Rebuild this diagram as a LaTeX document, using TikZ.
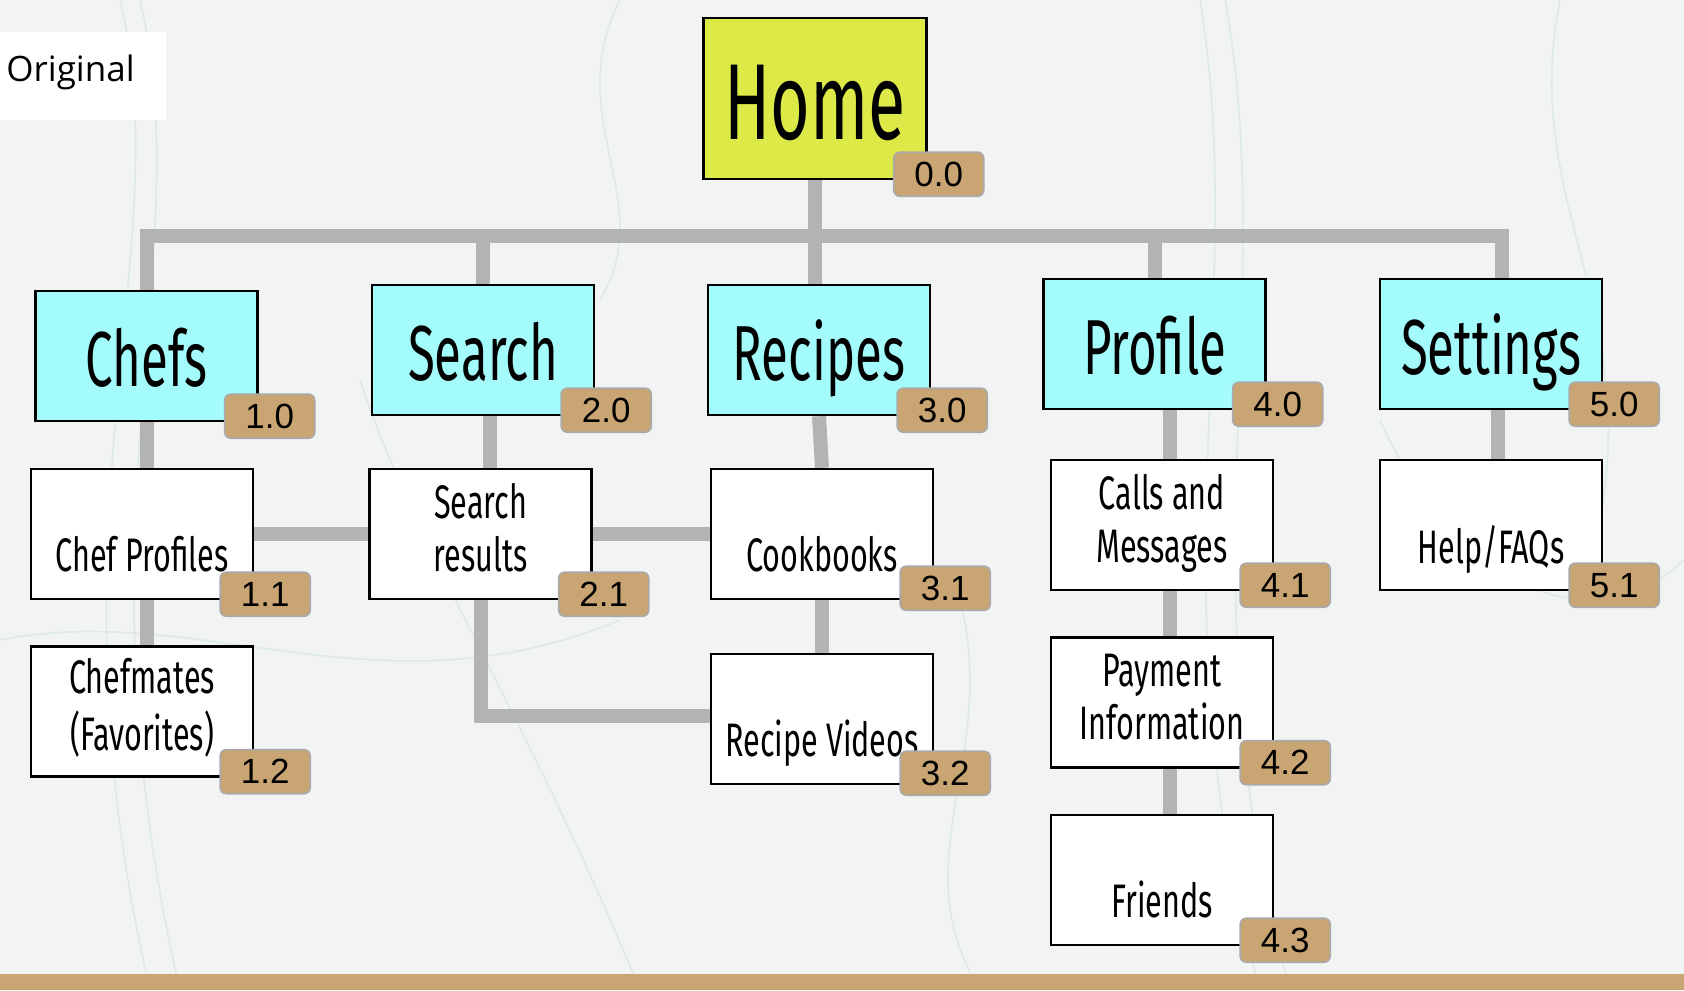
\documentclass[tikz,border=0pt]{standalone}
\usepackage{fontspec}
\IfFontExistsTF{Fira Sans Book}
  {\newfontfamily\condfont[FakeStretch=0.64]{Fira Sans Book}
   \newfontfamily\condfontb[FakeStretch=0.66]{Fira Sans Book}}
  {\newfontfamily\condfont[FakeStretch=0.63]{Fira Sans}
   \newfontfamily\condfontb[FakeStretch=0.65]{Fira Sans}}
\newfontfamily\badgefont{Liberation Sans}
\newfontfamily\origfont{Open Sans}
\usetikzlibrary{backgrounds}
\definecolor{cyanbox}{HTML}{A3FBFB}
\definecolor{homeyel}{HTML}{DCE947}
\definecolor{tanfill}{HTML}{C9A574}
\definecolor{badgeline}{HTML}{A9A9A9}
\definecolor{linegray}{HTML}{B3B3B3}
\definecolor{bgcol}{HTML}{F1F4F3}
\definecolor{smokecol}{HTML}{B9D8CB}
\newcommand\twoline[2]{\strut#1\\\strut#2}
\tikzset{
  boxbase/.style={draw=black, line width=1.2pt, minimum width=111pt, minimum height=65pt, inner sep=0pt},
  lvlone/.style={boxbase, fill=cyanbox, font=\condfont\fontsize{39}{45}\selectfont, text height=30pt, text depth=0pt},
  lvltwo/.style={boxbase, fill=white, align=center, font=\condfontb\fontsize{23.5}{26.5}\selectfont},
  homebox/.style={boxbase, fill=homeyel, minimum width=111.5pt, minimum height=80.5pt, font=\condfont\fontsize{54}{60}\selectfont, text height=41pt, text depth=0pt},
  badge/.style={draw=badgeline, line width=0.8pt, fill=tanfill, rounded corners=3pt, minimum width=45pt, minimum height=22pt, inner sep=0pt, font=\badgefont\fontsize{17.5}{20}\selectfont},
  conn/.style={draw=linegray, line width=7pt},
  smoke/.style={draw=smokecol, line width=0.8pt, opacity=0.35},
}
\begin{document}
\begin{tikzpicture}[x=0.5pt,y=-0.5pt]
\useasboundingbox (0,0) rectangle (1684,990);
\begin{pgfonlayer}{background}
\fill[bgcol] (0,0) rectangle (1684,990);
\draw[smoke] (120,0) .. controls (180,250) and (40,520) .. (150,990);
\draw[smoke] (140,0) .. controls (200,260) and (70,520) .. (180,990);
\draw[smoke] (360,380) .. controls (420,560) and (520,700) .. (640,990);
\draw[smoke] (1200,0) .. controls (1250,300) and (1150,600) .. (1260,990);
\draw[smoke] (1225,0) .. controls (1280,300) and (1180,600) .. (1290,990);
\draw[smoke] (1380,420) .. controls (1460,600) and (1600,640) .. (1684,560);
\draw[smoke] (0,640) .. controls (200,600) and (380,720) .. (620,620);
\draw[smoke] (960,600) .. controls (1000,760) and (900,860) .. (980,990);
\draw[smoke] (1560,0) .. controls (1520,200) and (1640,300) .. (1600,520);
\draw[smoke] (620,0) .. controls (560,120) and (660,200) .. (600,300);
\end{pgfonlayer}

% white label box
\node[fill=white, minimum width=83pt, minimum height=44pt, inner sep=0pt] (origbox) at (83,76) {};
\node[anchor=base west, inner sep=0pt, font=\origfont\fontsize{17.5}{20}\selectfont] (orig) at (6,82) {Original};

% boxes
\node[homebox] (home) at (815,98.5) {Home};
\node[lvlone] (chefs) at (146.5,356) {Chefs};
\node[lvlone] (search) at (483,350) {Search};
\node[lvlone] (recipes) at (819,350) {Recipes};
\node[lvlone] (profile) at (1154.5,344) {Profile};
\node[lvlone] (settings) at (1491,344) {Settings};
\node[lvltwo] (chefp) at (142,534) {\twoline{}{Chef Profiles}};
\node[lvltwo] (sres) at (480.5,534) {\twoline{Search}{results}};
\node[lvltwo] (cook) at (822,534) {\twoline{}{Cookbooks}};
\node[lvltwo] (calls) at (1162,525) {\twoline{Calls and}{Messages}};
\node[lvltwo] (help) at (1491,525) {\twoline{}{Help/FAQs}};
\node[lvltwo] (chefm) at (142,711.5) {\twoline{Chefmates}{(Favorites)}};
\node[lvltwo] (rvid) at (822,719) {\twoline{}{Recipe Videos}};
\node[lvltwo] (pay) at (1162,702.5) {\twoline{Payment}{Information}};
\node[lvltwo] (friends) at (1162,880) {\twoline{}{Friends}};

% badges
\node[badge] (b00) at ([xshift=5.5pt,yshift=3pt]home.south east) {0.0};
\node[badge] (b10) at ([xshift=5.5pt,yshift=3pt]chefs.south east) {1.0};
\node[badge] (b20) at ([xshift=5.5pt,yshift=3pt]search.south east) {2.0};
\node[badge] (b30) at ([xshift=5.5pt,yshift=3pt]recipes.south east) {3.0};
\node[badge] (b40) at ([xshift=5.5pt,yshift=3pt]profile.south east) {4.0};
\node[badge] (b50) at ([xshift=5.5pt,yshift=3pt]settings.south east) {5.0};
\node[badge] (b11) at ([xshift=5.5pt,yshift=3pt]chefp.south east) {1.1};
\node[badge] (b12) at ([xshift=5.5pt,yshift=3pt]chefm.south east) {1.2};
\node[badge] (b21) at ([xshift=5.5pt,yshift=3pt]sres.south east) {2.1};
\node[badge] (b31) at ([xshift=5.5pt,yshift=6pt]cook.south east) {3.1};
\node[badge] (b32) at ([xshift=5.5pt,yshift=6pt]rvid.south east) {3.2};
\node[badge] (b41) at ([xshift=5.5pt,yshift=3pt]calls.south east) {4.1};
\node[badge] (b42) at ([xshift=5.5pt,yshift=3pt]pay.south east) {4.2};
\node[badge] (b43) at ([xshift=5.5pt,yshift=3pt]friends.south east) {4.3};
\node[badge] (b51) at ([xshift=5.5pt,yshift=3pt]help.south east) {5.1};

% connectors
\coordinate (busR) at (1502,236);
\begin{pgfonlayer}{background}
\draw[conn] (chefs.north) |- (busR) -- (busR |- settings.north);
\draw[conn] (search.north) -- (search.north |- busR);
\draw[conn] (profile.north) -- (profile.north |- busR);
\draw[conn] (home.south) -- (home.south |- recipes.north);
\draw[conn] (chefs.south) -- (chefs.south |- chefp.north);
\draw[conn] (chefs.south |- chefp.south) -- (chefs.south |- chefm.north);
\draw[conn] ([xshift=3.5pt]search.south) -- ([xshift=3.5pt]search.south |- sres.north);
\draw[conn] (chefp.east) -- (sres.west);
\draw[conn] (sres.east) -- (cook.west);
\draw[conn] (sres.south) |- ([yshift=1.5pt]rvid.west);
\draw[conn] (recipes.south) -- (cook.north);
\draw[conn] (cook.south) -- (rvid.north);
\draw[conn] ([xshift=4pt]calls.north |- profile.south) -- ([xshift=4pt]calls.north);
\draw[conn] ([xshift=4pt]calls.south) -- ([xshift=4pt]pay.north);
\draw[conn] ([xshift=4pt]pay.south) -- ([xshift=4pt]friends.north);
\draw[conn] ([xshift=3.5pt]help.north |- settings.south) -- ([xshift=3.5pt]help.north);
\end{pgfonlayer}

% bottom bar
\fill[tanfill] (0,974) rectangle (1684,990);
\end{tikzpicture}
\end{document}
